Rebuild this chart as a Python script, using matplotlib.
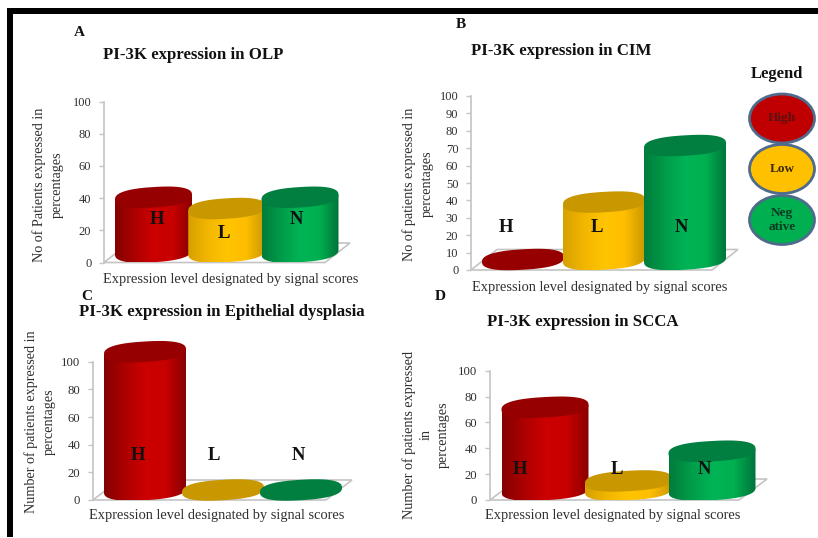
import numpy as np
import matplotlib
matplotlib.use("Agg")
import matplotlib.pyplot as plt
from matplotlib.colors import LinearSegmentedColormap
from matplotlib.patches import Polygon, Ellipse, Rectangle

plt.rcParams['font.family'] = ['Liberation Serif', 'DejaVu Serif']

W, H = 818, 538

# ---- data ----
categories = ['H', 'L', 'N']
olp_values = [34, 27, 34]
cim_values = [0, 33, 65.5]
dysplasia_values = [100, 0, 0]
scca_values = [64, 7, 30]
ticks_10 = list(range(0, 101, 10))
ticks_20 = list(range(0, 101, 20))
xlabel_text = 'Expression level designated by signal scores'

body = {'H': ['#850000', '#ab0000', '#cc0000', '#c80000', '#8a0000'],
        'L': ['#d6a000', '#f2b600', '#ffc400', '#ffbe00', '#cc9800'],
        'N': ['#007c3c', '#009c49', '#00b456', '#00b050', '#00733a']}
cap = {'H': '#960000', 'L': '#c99700', 'N': '#007f40'}
txt = '#303030'

panels = [
    dict(values=olp_values, ticks=ticks_20, left=104, right=350, y0=262.5, y100=101.5,
         floor_front=325, depth=19.5, centers=(153.5, 300), half=38.5, base=252,
         letter=('A', 79, 32), title=('PI-3K expression in OLP', 193.5, 55),
         ylab=('No of Patients expressed in\npercentages', 48, 185),
         xlab=(231, 280), marks=[(157, 219), (224, 233), (296, 219)], tick_fs=9),
    dict(values=cim_values, ticks=ticks_10, left=471, right=738, y0=270, y100=96,
         floor_front=712, depth=20.5, centers=(523, 685), half=41, base=259.5,
         letter=('B', 461, 24), title=('PI-3K expression in CIM', 561.5, 51),
         ylab=('No of patients expressed in\npercentages', 418, 184),
         xlab=(600, 287), marks=[(506, 227), (597, 227), (681, 227)], tick_fs=9),
    dict(values=dysplasia_values, ticks=ticks_20, left=93, right=352, y0=500, y100=361.7,
         floor_front=326, depth=20, centers=(145, 301), half=41, base=490,
         letter=('C', 87, 296), title=('PI-3K expression in Epithelial dysplasia', 221.5, 312),
         ylab=('Number of patients expressed in\npercentages', 40, 422),
         xlab=(217, 515), marks=[(138, 456), (214, 456), (298, 456)], tick_fs=9.2),
    dict(values=scca_values, ticks=ticks_20, left=490, right=767, y0=500, y100=370.7,
         floor_front=739, depth=21, centers=(545, 712), half=43.5, base=490,
         letter=('D', 440, 296), title=('PI-3K expression in SCCA', 583, 322),
         ylab=('Number of patients expressed\nin\npercentages', 426, 435),
         xlab=(613, 515), marks=[(520, 470), (617, 470), (704, 470)], tick_fs=9.2),
]

fig = plt.figure(figsize=(W / 100, H / 100), dpi=100, facecolor='white')


def rect(left, right, y_top, y_bot):
    return [left / W, 1 - y_bot / H, (right - left) / W, (y_bot - y_top) / H]


def ellipse_px(half_w, half_h=10.2, rise=2.4, n=241):
    # slightly squared-off ellipse, sheared so that the right end sits higher
    t = np.linspace(0, 2 * np.pi, n)
    c, s = np.cos(t), np.sin(t)
    ux = np.sign(c) * np.abs(c) ** 0.8
    uy = np.sign(s) * np.abs(s) ** 0.8
    return half_w * ux, half_h * uy + rise * ux


def draw_panel(p):
    ax = fig.add_axes(rect(p['left'], p['right'], p['y100'], p['y0']))
    ax.patch.set_alpha(0)
    c0, c2 = p['centers']
    sx = (c2 - c0) / 2                    # pixels per category
    sy = (p['y0'] - p['y100']) / 100      # pixels per percent
    xlim = ((p['left'] - c0) / sx, (p['right'] - c0) / sx)
    ax.set_xlim(xlim)
    ax.set_ylim(0, 100)

    # floor
    dx = (p['right'] - p['floor_front']) / sx
    dy = p['depth'] / sy
    floor = Polygon([(xlim[0], 0), (xlim[1] - dx, 0), (xlim[1], dy), (xlim[0] + dx, dy)],
                    closed=True, fc='white', ec='#c4c4c4', lw=1.2, zorder=1, clip_on=False)
    ax.add_patch(floor)

    base_y = (p['y0'] - p['base']) / sy
    for i, (cat, val) in enumerate(zip(categories, p['values'])):
        ox, oy = ellipse_px(p['half'])
        ex, ey = ox / sx, oy / sy
        xc = i
        z = 3 + i
        if val > 0:
            n = len(ex) - 1
            lower = n // 2 + np.arange(n // 2 + 1)   # t from pi (left) to 2pi (right)
            bx = xc + ex[lower]
            by = base_y + ey[lower]
            tx = xc + ex[[n, n // 2]]
            ty = base_y + val + ey[[n, n // 2]]
            poly = np.column_stack([np.r_[bx, tx], np.r_[by, ty]])
            clip = Polygon(poly, closed=True, transform=ax.transData, fc='none', ec='none')
            ax.add_patch(clip)
            clip.set_clip_on(False)
            cmap = LinearSegmentedColormap.from_list(cat, body[cat])
            im = ax.imshow(np.linspace(0, 1, 128)[None, :], cmap=cmap, aspect='auto',
                           extent=(xc + ex.min(), xc + ex.max(), 0, 110), zorder=z)
            im.set_clip_path(clip)
            im.set_clip_box(fig.bbox)
        top = Polygon(np.column_stack([xc + ex, base_y + val + ey]), closed=True,
                      fc=cap[cat], ec='none', zorder=z + 0.1, clip_on=False)
        ax.add_patch(top)
    ax.set_xlim(xlim)
    ax.set_ylim(0, 100)

    ax.set_yticks(p['ticks'])
    ax.set_xticks([])
    ax.tick_params(axis='y', length=3.6, width=1, color='#c4c4c4', labelsize=p['tick_fs'],
                   labelcolor=txt, pad=5.5)
    for s in ('top', 'right', 'bottom'):
        ax.spines[s].set_visible(False)
    ax.spines['left'].set_color('#c4c4c4')
    ax.spines['left'].set_linewidth(1.2)
    return ax


for p in panels:
    draw_panel(p)

# overlay in pixel coordinates for annotation and page furniture
ov = fig.add_axes([0, 0, 1, 1], zorder=10)
ov.set_xlim(0, W)
ov.set_ylim(H, 0)
ov.axis('off')
ov.patch.set_alpha(0)
ov.add_patch(Rectangle((7, 8), W - 7, 5.5, fc='black', ec='none'))
ov.add_patch(Rectangle((7, 8), 6, H - 9, fc='black', ec='none'))

for p in panels:
    t, x, y = p['letter']
    ov.text(x, y, t, fontsize=11, fontweight='bold', ha='center', va='center', color='#111111')
    t, x, y = p['title']
    ov.text(x, y, t, fontsize=12.1, fontweight='bold', ha='center', va='center', color='#111111')
    t, x, y = p['ylab']
    ov.text(x, y, t, fontsize=10.2, rotation=90, ha='center', va='center', color=txt,
            linespacing=1.4, multialignment='center')
    x, y = p['xlab']
    ov.text(x, y, xlabel_text, fontsize=10.35, ha='center', va='center', color=txt)
    for cat, (x, y) in zip(categories, p['marks']):
        ov.text(x, y, cat, fontsize=13.5, fontweight='bold', ha='center', va='center',
                color='#111111')

# legend
legend_items = [('High', '#c00000', '#5a1010'), ('Low', '#ffc000', '#3a2a10'),
                ('Neg\native', '#00b050', '#0d3a20')]
ov.text(777, 74, 'Legend', fontsize=12, fontweight='bold', ha='center', va='center',
        color='#111111')
for (label, col, tc), yc in zip(legend_items, (118.5, 169, 220)):
    ov.add_patch(Ellipse((782, yc), 65, 49, fc=col, ec='#4f6b8c', lw=2))
    ov.text(782, yc, label, fontsize=9.5, fontweight='bold', ha='center', va='center',
            color=tc, linespacing=1.3)

fig.savefig('out.png', dpi=100, facecolor='white')
